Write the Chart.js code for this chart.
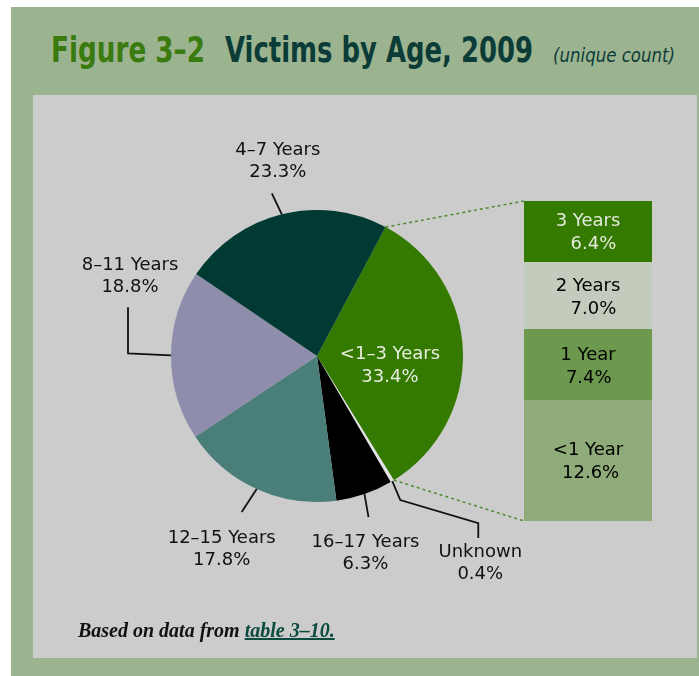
<!DOCTYPE html>
<html>
<head>
<meta charset="utf-8">
<script src="https://cdn.jsdelivr.net/npm/chart.js@4.4.0/dist/chart.umd.min.js"></script>
<style>
  html, body { margin: 0; padding: 0; background: #fff; }
  #frame { position: absolute; left: 11px; top: 7px; width: 688px; height: 669px; background: #9cb38f; }
  .tt { position: absolute; white-space: nowrap; line-height: 40px; transform-origin: 0 0;
        font-family: 'DejaVu Sans Condensed', 'Liberation Sans Narrow', sans-serif; color: #0b3c37; }
  #t1 { left: 40px; top: 23px; font-weight: bold; font-size: 36px; color: #3a7b10; }
  #t2 { left: 214px; top: 23px; font-weight: bold; font-size: 36px; }
  #t3 { left: 542px; top: 28px; font-style: italic; font-size: 19px; }
  #panel { position: absolute; left: 22px; top: 88px; width: 664px; height: 563px; background: #cccccc; }
  #pie { position: absolute; left: 0; top: 0; }
  #bar { position: absolute; left: 491px; top: 106px; }
  #note { position: absolute; left: 45px; top: 524px; font-family: 'Liberation Serif', serif;
          font-style: italic; font-weight: bold; font-size: 20px; color: #111; white-space: nowrap; }
  #note span { color: #0b4a3f; text-decoration: underline; text-decoration-thickness: 2px; }
</style>
</head>
<body>
<div id="frame">
  <div class="tt" id="t1" data-w="154">Figure 3–2</div>
  <div class="tt" id="t2" data-w="308">Victims by Age, 2009</div>
  <div class="tt" id="t3" data-w="122">(unique count)</div>
  <div id="panel">
    <canvas id="pie" width="664" height="563"></canvas>
    <canvas id="bar" width="128" height="320"></canvas>
    <div id="note">Based on data from <span>table 3–10.</span></div>
  </div>
</div>
<script>
// squeeze the title pieces to the condensed widths of the original
document.querySelectorAll('.tt').forEach(function(el) {
    var w = el.getBoundingClientRect().width;
    el.style.transform = 'scaleX(' + (el.dataset.w / w) + ')';
});

var pieLabels = ['<1–3 Years', 'Unknown', '16–17 Years', '12–15 Years', '8–11 Years', '4–7 Years'];
var pieValues = [33.4, 0.4, 6.3, 17.8, 18.8, 23.3];
var pieColors = ['#347a00', '#e2e2e2', '#000000', '#4a7f79', '#8e8eac', '#003a33'];

var barLabels = ['<1 Year', '1 Year', '2 Years', '3 Years'];
var barValues = [12.6, 7.4, 7.0, 6.4];
var barColors = ['#8eab79', '#6c994e', '#c3cbbd', '#347a00'];
var barTextColors = ['#000', '#000', '#000', '#e4eadc'];

var labelFont = '18px "DejaVu Sans", sans-serif';

// stacked breakdown of the <1-3 slice
var barChart = new Chart(document.getElementById('bar'), {
    type: 'bar',
    data: {
        labels: [''],
        datasets: barValues.map(function(v, i) {
            return { label: barLabels[i], data: [v], backgroundColor: barColors[i],
                     borderWidth: 0, barPercentage: 1, categoryPercentage: 1 };
        })
    },
    options: {
        responsive: false,
        animation: false,
        events: [],
        layout: { padding: 0 },
        plugins: { legend: { display: false }, tooltip: { enabled: false } },
        scales: {
            x: { stacked: true, display: false },
            y: { stacked: true, display: false, min: 0,
                 max: barValues.reduce(function(a, b) { return a + b; }, 0) }
        }
    },
    plugins: [{
        id: 'barText',
        afterDatasetsDraw: function(chart) {
            var ctx = chart.ctx;
            ctx.save();
            ctx.font = labelFont;
            ctx.textBaseline = 'middle';
            chart.data.datasets.forEach(function(ds, i) {
                var el = chart.getDatasetMeta(i).data[0];
                var cy = (el.y + el.base) / 2 + 1;
                var w = ctx.measureText(ds.label).width;
                ctx.fillStyle = barTextColors[i];
                ctx.textAlign = 'center';
                ctx.fillText(ds.label, el.x, cy - 11);
                ctx.textAlign = 'right';
                ctx.fillText(ds.data[0].toFixed(1) + '%', el.x + w / 2 - 4, cy + 12);
            });
            ctx.restore();
        }
    }]
});

// leader lines: offsets from the slice edge point, then text offset from the last point
var leaders = {
    5: { path: [[-10, -21]], text: [6, -43] },
    4: { path: [[-43, -2], [-43, -48]], text: [2, -42] },
    3: { path: [[-15, 23]], text: [-20, 26] },
    2: { path: [[4, 23]], text: [-3, 25] },
    1: { path: [[8, 19], [86, 42], [86, 57]], text: [2, 14] }
};

var pieChart = new Chart(document.getElementById('pie'), {
    type: 'pie',
    data: {
        labels: pieLabels,
        datasets: [{ data: pieValues, backgroundColor: pieColors, borderWidth: 0 }]
    },
    options: {
        responsive: false,
        animation: false,
        events: [],
        rotation: 28,
        layout: { padding: { left: 138, right: 234, top: 115, bottom: 156 } },
        plugins: { legend: { display: false }, tooltip: { enabled: false } }
    },
    plugins: [{
        id: 'pieText',
        afterDatasetsDraw: function(chart) {
            var ctx = chart.ctx;
            var arcs = chart.getDatasetMeta(0).data;
            ctx.save();

            // dashed connectors to the breakdown bar
            var green = arcs[0];
            var topEl = barChart.getDatasetMeta(barValues.length - 1).data[0];
            var botEl = barChart.getDatasetMeta(0).data[0];
            var ox = barChart.canvas.offsetLeft - chart.canvas.offsetLeft;
            var oy = barChart.canvas.offsetTop - chart.canvas.offsetTop;
            ctx.strokeStyle = '#4f8a2e';
            ctx.lineWidth = 1.5;
            ctx.setLineDash([3, 3]);
            ctx.beginPath();
            ctx.moveTo(green.x + green.outerRadius * Math.cos(green.startAngle),
                       green.y + green.outerRadius * Math.sin(green.startAngle));
            ctx.lineTo(ox + topEl.x - topEl.width / 2, oy + topEl.y);
            ctx.moveTo(green.x + green.outerRadius * Math.cos(green.endAngle),
                       green.y + green.outerRadius * Math.sin(green.endAngle));
            ctx.lineTo(ox + botEl.x - botEl.width / 2, oy + botEl.base);
            ctx.stroke();
            ctx.setLineDash([]);

            ctx.font = labelFont;
            ctx.textAlign = 'center';
            ctx.textBaseline = 'middle';

            arcs.forEach(function(arc, i) {
                var mid = (arc.startAngle + arc.endAngle) / 2;
                var pct = pieValues[i].toFixed(1) + '%';
                if (i === 0) {
                    var r = arc.outerRadius * 0.5;
                    var lx = arc.x + r * Math.cos(mid), ly = arc.y + r * Math.sin(mid);
                    ctx.fillStyle = '#e8eedf';
                    ctx.fillText(pieLabels[i], lx, ly + 1);
                    ctx.fillText(pct, lx, ly + 24);
                    return;
                }
                var L = leaders[i];
                var px = arc.x + arc.outerRadius * Math.cos(mid);
                var py = arc.y + arc.outerRadius * Math.sin(mid);
                ctx.strokeStyle = '#111';
                ctx.lineWidth = 1.8;
                ctx.beginPath();
                ctx.moveTo(px, py);
                var ex = px, ey = py;
                L.path.forEach(function(o) { ex = px + o[0]; ey = py + o[1]; ctx.lineTo(ex, ey); });
                ctx.stroke();
                ctx.fillStyle = '#111';
                ctx.fillText(pieLabels[i], ex + L.text[0], ey + L.text[1]);
                ctx.fillText(pct, ex + L.text[0], ey + L.text[1] + 22);
            });
            ctx.restore();
        }
    }]
});
</script>
</body>
</html>
